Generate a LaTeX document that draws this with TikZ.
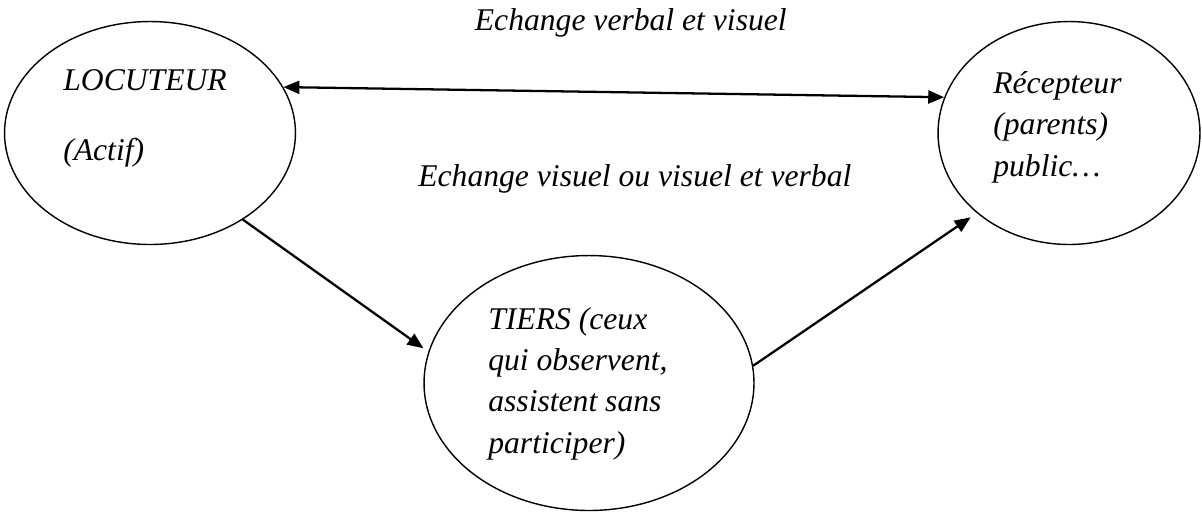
\documentclass[tikz,border=0pt]{standalone}
\usepackage{fontspec}
\setmainfont{Liberation Serif}
\usetikzlibrary{shapes.geometric,arrows.meta}

\begin{document}
\begin{tikzpicture}[x=0.02cm,y=-0.02cm,
  bulle/.style={draw,ellipse,line width=0.8pt,inner sep=0pt},
  texte/.style={font=\fontsize{18}{23.5}\selectfont\itshape,align=left,inner sep=0pt},
  fleche/.style={-{Triangle[length=0.32cm,width=0.26cm]},line width=1.3pt}]
  \useasboundingbox (0,0) rectangle (1202,512);
  % les trois bulles
  \node [bulle,minimum width=5.82cm,minimum height=4.46cm] (loc) at (150,133) {};
  \node [bulle,minimum width=5.24cm,minimum height=4.46cm] (rec) at (1069,133) {};
  \node [bulle,minimum width=6.6cm,minimum height=5.1cm] (tiers) at (589,383) {};
  % textes (base = derniere ligne)
  \node [texte,anchor=base west] (loc-nom) at (63,90) {LOCUTEUR};
  \node [texte,anchor=base west] (loc-role) at (63,160) {(Actif)};
  \node [texte,anchor=base west] (rec-txt) at (993,176) {Récepteur\\(parents)\\public…};
  \node [texte,anchor=base west] (tiers-txt) at (488,453) {TIERS (ceux\\qui observent,\\assistent sans\\participer)};
  \node [texte,anchor=base east] (ech-haut) at (787,30) {Echange verbal et visuel};
  \node [texte,anchor=base west] (ech-bas) at (418,186) {Echange visuel ou visuel et verbal};
  % fleches
  \draw [fleche,{Triangle[length=0.32cm,width=0.26cm]}-{Triangle[length=0.32cm,width=0.26cm]}] (loc.19) -- (rec.164);
  \draw [fleche,shorten >=1.2mm] (loc.-43) -- (tiers.169);
  \draw [fleche,shorten >=1.5mm] (tiers.6) -- (rec.221);
\end{tikzpicture}
\end{document}
